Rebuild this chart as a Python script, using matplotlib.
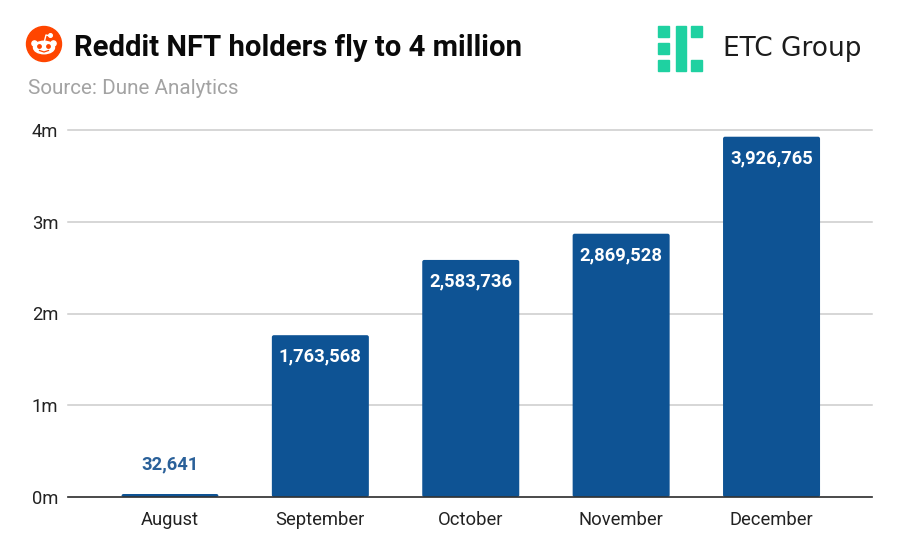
"""Reddit NFT holders bar chart with title block and logos."""
import matplotlib
matplotlib.use("Agg")
import matplotlib.pyplot as plt
from matplotlib.patches import Circle, Ellipse, FancyBboxPatch, Rectangle

plt.rcParams["font.family"] = ["Roboto", "DejaVu Sans"]

months = ["August", "September", "October", "November", "December"]
holders = [32641, 1763568, 2583736, 2869528, 3926765]
y_ticks = [0, 1000000, 2000000, 3000000, 4000000]
y_tick_labels = ["0m", "1m", "2m", "3m", "4m"]

W, H = 900, 557
BLUE = "#0e5394"
GREEN = "#1fd1a1"
ORANGE = "#ff4500"


def px_axes(fig, left, top, right, bottom):
    return fig.add_axes([left / W, 1 - bottom / H, (right - left) / W, (bottom - top) / H])


fig = plt.figure(figsize=(W / 100, H / 100), dpi=100, facecolor="white")

# main chart
ax = px_axes(fig, 68, 130, 872, 497)
ax.set_xlim(-0.678, 4.668)
ax.set_ylim(0, 4000000)
ax.set_axisbelow(True)
ax.yaxis.grid(True, color="#cccccc", lw=1.1, clip_on=False)
for side in ["top", "left", "right"]:
    ax.spines[side].set_visible(False)
ax.spines["bottom"].set_color("#333333")
ax.spines["bottom"].set_linewidth(1.2)
ax.tick_params(length=0)
ax.set_yticks(y_ticks)
ax.set_yticklabels(y_tick_labels, fontsize=13.2, color="#222222")
ax.tick_params(axis="y", pad=7)
ax.tick_params(axis="x", pad=10)
ax.set_xticks(range(len(months)))
ax.set_xticklabels(months, fontsize=13.2, color="#222222")

# bars give the geometry, the visible shape is the same box with small round corners
bars = ax.bar(range(len(months)), holders, width=0.645, color=BLUE, zorder=2)
for bar in bars:
    bar.set_visible(False)
    ax.add_patch(FancyBboxPatch((bar.get_x(), bar.get_y()), bar.get_width(), bar.get_height(),
                                boxstyle="round,pad=0,rounding_size=0.0133",
                                mutation_aspect=1640000, fc=BLUE, ec="none", zorder=2.5))

for i, v in enumerate(holders):
    if v > 500000:
        ax.annotate(f"{v:,}", (i, v), xytext=(0, -9), textcoords="offset points",
                    ha="center", va="top", color="white", fontsize=13.2, fontweight="bold", zorder=3)
    else:
        ax.annotate(f"{v:,}", (i, v), xytext=(0, 15), textcoords="offset points",
                    ha="center", va="bottom", color="#2a6099", fontsize=13.2, fontweight="bold", zorder=3)

# overlay in pixel coordinates for the header
ov = fig.add_axes([0, 0, 1, 1], zorder=5)
ov.set_xlim(0, W)
ov.set_ylim(H, 0)
ov.axis("off")
ov.patch.set_alpha(0)

ov.text(74, 48, "Reddit NFT holders fly to 4 million", fontsize=21.1, fontweight="bold",
        color="#0a0a0a", va="center", ha="left")
ov.text(28, 88, "Source: Dune Analytics", fontsize=14.85, color="#a3a3a3", va="center", ha="left")

# reddit logo
ov.add_patch(Circle((44, 44), 17.5, color=ORANGE))
ov.add_patch(Ellipse((44, 47.5), 21, 12.5, color="white"))
ov.add_patch(Circle((34.5, 43.5), 2.6, color="white"))
ov.add_patch(Circle((53.5, 43.5), 2.6, color="white"))
ov.add_patch(Circle((39.5, 46.5), 1.7, color=ORANGE))
ov.add_patch(Circle((48.5, 46.5), 1.7, color=ORANGE))
ov.plot([44.5, 46, 50], [41, 35, 36], color="white", lw=1)
ov.add_patch(Circle((50.5, 35.5), 1.8, color="white"))
ov.plot([39.5, 44, 48.5], [50.5, 52, 50.5], color=ORANGE, lw=0.9)

# ETC Group logo
for x in [658, 691]:
    for y in [26, 43, 60]:
        if x == 691 and y == 43:
            continue
        ov.add_patch(Rectangle((x, y), 11, 10.5, color=GREEN))
ov.add_patch(Rectangle((675.5, 26), 10.5, 44.5, color=GREEN))
ov.text(792, 49, "ETC Group", fontsize=19, color="#1c1c1c", va="center", ha="center",
        family=["DejaVu Sans"])

fig.savefig("out.png", dpi=100)
